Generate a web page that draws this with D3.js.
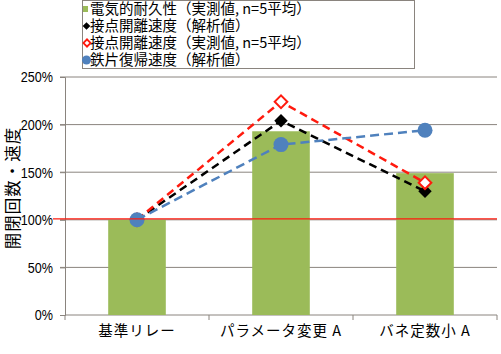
<!DOCTYPE html>
<html>
<head>
<meta charset="utf-8">
<script src="https://cdn.jsdelivr.net/npm/d3@7"></script>
<style>
  body { margin: 0; background: #fff; }
  text { font-family: "Noto Sans CJK JP", "Liberation Sans", sans-serif; }
  .num { font-family: "Liberation Sans Narrow", "Liberation Sans", sans-serif; }
</style>
</head>
<body>
<script>
// data
const categories = ["基準リレー", "パラメータ変更 A", "バネ定数小 A"];
const durability = [100, 193, 149];        // 電気的耐久性（実測値）
const contactCalc = [100, 204, 130];       // 接点開離速度（解析値）
const contactMeas = [100, 224, 139];       // 接点開離速度（実測値）
const armatureCalc = [100, 179, 194];      // 鉄片復帰速度（解析値）
const yTicks = [0, 50, 100, 150, 200, 250];
const refValue = 101;

const legendLabels = [
  "電気的耐久性（実測値, n=5平均）",
  "接点開離速度（解析値）",
  "接点開離速度（実測値, n=5平均）",
  "鉄片復帰速度（解析値）"
];

// 基本設置
const width = 501, height = 354;
const plotLeft = 65, plotRight = 497, plotTop = 77, plotBottom = 315;
const gridColor = "#8a847e";
const green = "#9bbb59", blue = "#4f81bd", red = "#ff1a0e";

const svg = d3.select("body").append("svg")
  .attr("width", width).attr("height", height);

const x = d3.scaleBand().domain(categories).range([plotLeft, plotRight])
  .paddingInner(0.6).paddingOuter(0.3);
const y = d3.scaleLinear().domain([0, 250]).range([plotBottom, plotTop]);

// gridlines
svg.append("g").selectAll("line").data(yTicks.slice(1)).join("line")
  .attr("x1", plotLeft - 5).attr("x2", plotRight)
  .attr("y1", d => y(d)).attr("y2", d => y(d))
  .attr("stroke", gridColor).attr("stroke-width", 1);

// y axis
const yAxis = svg.append("g").attr("transform", `translate(${plotLeft},0)`)
  .call(d3.axisLeft(y).tickValues(yTicks).tickFormat(d => d + "%").tickSize(5).tickPadding(7));
yAxis.select(".domain").attr("stroke", gridColor);
yAxis.selectAll(".tick line").attr("stroke", gridColor);
yAxis.selectAll("text").attr("class", "num").style("font-size", "15px").attr("fill", "#000")
  .each(function() {
    // narrow digits like the original
    const w = this.getComputedTextLength();
    d3.select(this).attr("textLength", w * 0.84).attr("lengthAdjust", "spacingAndGlyphs");
  });

// x axis
const xAxis = svg.append("g").attr("transform", `translate(0,${plotBottom})`)
  .call(d3.axisBottom(x).tickSize(0).tickPadding(11));
xAxis.select(".domain").attr("stroke", gridColor).attr("d", `M${plotLeft},0H${plotRight}`);
xAxis.selectAll("text").style("font-size", "14.5px").style("letter-spacing", "1px").attr("fill", "#000");
const step = x.step();
svg.append("g").selectAll("line").data(d3.range(4)).join("line")
  .attr("x1", i => plotLeft + i * step).attr("x2", i => plotLeft + i * step)
  .attr("y1", plotBottom).attr("y2", plotBottom + 5)
  .attr("stroke", gridColor);

// y title
svg.append("text")
  .attr("transform", `translate(19,188) rotate(-90)`)
  .attr("text-anchor", "middle")
  .style("font-size", "16.5px")
  .style("letter-spacing", "1px")
  .text("開閉回数・速度");

// bars
svg.append("g").selectAll("rect").data(durability).join("rect")
  .attr("x", (d, i) => x(categories[i]))
  .attr("y", d => y(d))
  .attr("width", x.bandwidth())
  .attr("height", d => y(0) - y(d))
  .attr("fill", green);

const cx = i => x(categories[i]) + x.bandwidth() / 2;
const lineGen = d3.line().x((d, i) => cx(i)).y(d => y(d));

// 接点開離速度（解析値）
svg.append("path").attr("d", lineGen(contactCalc))
  .attr("fill", "none").attr("stroke", "#000").attr("stroke-width", 2.5)
  .attr("stroke-dasharray", "8,5");
svg.append("g").selectAll("path").data(contactCalc).join("path")
  .attr("d", d3.symbol().type(d3.symbolSquare).size(90)())
  .attr("transform", (d, i) => `translate(${cx(i)},${y(d)}) rotate(45)`)
  .attr("fill", "#000");

// 接点開離速度（実測値）
svg.append("path").attr("d", lineGen(contactMeas))
  .attr("fill", "none").attr("stroke", red).attr("stroke-width", 2.5)
  .attr("stroke-dasharray", "8,5");
svg.append("g").selectAll("path").data(contactMeas).join("path")
  .attr("d", d3.symbol().type(d3.symbolSquare).size(80)())
  .attr("transform", (d, i) => `translate(${cx(i)},${y(d)}) rotate(45)`)
  .attr("fill", "#fff").attr("stroke", red).attr("stroke-width", 2);

// 鉄片復帰速度（解析値）
svg.append("path").attr("d", lineGen(armatureCalc))
  .attr("fill", "none").attr("stroke", blue).attr("stroke-width", 2.5)
  .attr("stroke-dasharray", "9,5");
svg.append("g").selectAll("circle").data(armatureCalc).join("circle")
  .attr("cx", (d, i) => cx(i)).attr("cy", d => y(d)).attr("r", 7.5)
  .attr("fill", blue);

// reference line
svg.append("line")
  .attr("x1", 53).attr("x2", plotRight)
  .attr("y1", y(refValue)).attr("y2", y(refValue))
  .attr("stroke", red).attr("stroke-width", 1.3);

// legend
const lg = svg.append("g");
lg.append("rect").attr("x", 82.5).attr("y", 0.5).attr("width", 332).attr("height", 68)
  .attr("fill", "#fff").attr("stroke", gridColor);
const rowY = [9, 26, 43, 60];
lg.selectAll("text").data(legendLabels).join("text")
  .attr("x", 90).attr("y", (d, i) => rowY[i]).attr("dy", "0.36em")
  .style("font-size", "14.5px")
  .text(d => d);
lg.append("rect").attr("x", 83).attr("y", rowY[0] - 3).attr("width", 5).attr("height", 6).attr("fill", green);
lg.append("path").attr("d", d3.symbol().type(d3.symbolSquare).size(30)())
  .attr("transform", `translate(86.5,${rowY[1]}) rotate(45)`).attr("fill", "#000");
lg.append("path").attr("d", d3.symbol().type(d3.symbolSquare).size(26)())
  .attr("transform", `translate(87,${rowY[2]}) rotate(45)`)
  .attr("fill", "#fff").attr("stroke", red).attr("stroke-width", 1.8);
lg.append("circle").attr("cx", 86.5).attr("cy", rowY[3]).attr("r", 4.5).attr("fill", blue);
</script>
</body>
</html>
